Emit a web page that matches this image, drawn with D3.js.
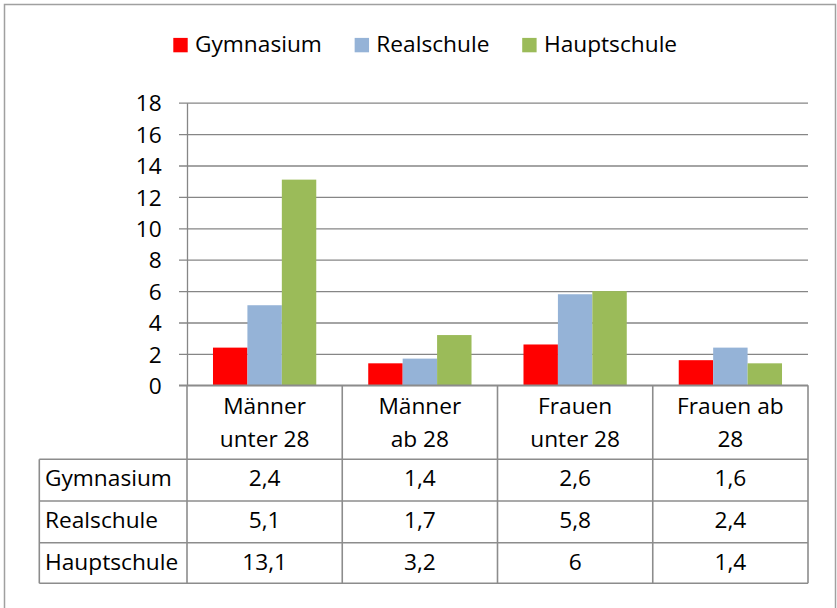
<!DOCTYPE html>
<html>
<head>
<meta charset="utf-8">
<script src="https://cdn.jsdelivr.net/npm/d3@7"></script>
<style>
  html, body { margin: 0; padding: 0; background: #fff; }
  svg { display: block; }
  text { font-family: "Open Sans", Lato, sans-serif; font-size: 22.7px; fill: #000; }
</style>
</head>
<body>
<svg id="chart" width="837" height="608"></svg>
<script>
// ---- data ----
const categories = [["Männer", "unter 28"], ["Männer", "ab 28"], ["Frauen", "unter 28"], ["Frauen ab", "28"]];
const seriesNames = ["Gymnasium", "Realschule", "Hauptschule"];
const gymnasium = [2.4, 1.4, 2.6, 1.6];
const realschule = [5.1, 1.7, 5.8, 2.4];
const hauptschule = [13.1, 3.2, 6, 1.4];
const yTicks = [0, 2, 4, 6, 8, 10, 12, 14, 16, 18];
const colors = ["#FF0000", "#95B3D7", "#9BBB59"];

(function () {
const seriesValues = [gymnasium, realschule, hauptschule];
const fmt = v => String(v).replace(".", ",");

const svg = d3.select("#chart");

// outer border
svg.append("rect").attr("x", 4.5).attr("y", 4.5).attr("width", 831).attr("height", 640)
  .attr("fill", "none").attr("stroke", "#a0a0a0").attr("stroke-width", 1.5);

const pLeft = 187, pRight = 808, pTop = 102.7, pBottom = 385.3;
const catIdx = categories.map((d, i) => i);

const x0 = d3.scaleBand().domain(catIdx).range([pLeft, pRight]).padding(0);
const x1 = d3.scaleBand().domain(seriesNames).range([0, x0.bandwidth()]).paddingInner(0).paddingOuter(0.755);
const y = d3.scaleLinear().domain([0, 18]).range([pBottom, pTop]);

// gridlines
const grid = svg.append("g").attr("transform", `translate(${pRight},0)`)
  .call(d3.axisLeft(y).tickValues(yTicks).tickSize(pRight - pLeft + 8).tickFormat(""));
grid.select(".domain").remove();
grid.selectAll("line").attr("stroke", "#868686").attr("stroke-width", 1.3);

// y axis
const yAxis = svg.append("g").attr("transform", `translate(${pLeft},0)`)
  .call(d3.axisLeft(y).tickValues(yTicks).tickSize(0).tickPadding(25.3));
yAxis.select(".domain").attr("stroke", "#868686").attr("stroke-width", 1.3);
yAxis.attr("font-family", null).attr("font-size", null);
yAxis.selectAll("text").attr("dy", "0.36em");

// bars
seriesNames.forEach((s, si) => {
  svg.append("g").selectAll("rect").data(seriesValues[si]).join("rect")
    .attr("x", (d, i) => x0(i) + x1(s))
    .attr("width", x1.bandwidth())
    .attr("y", d => y(d))
    .attr("height", d => y(0) - y(d))
    .attr("fill", colors[si]);
});

// data table
const rowTops = [459.3, 501, 542.7, 583.3];
const tableLeft = 39.3;
const lineColor = "#8c8c8c";
const tg = svg.append("g");
tg.append("line").attr("x1", pLeft - 8).attr("x2", pRight).attr("y1", pBottom).attr("y2", pBottom);
rowTops.forEach(ry => tg.append("line").attr("x1", tableLeft).attr("x2", pRight).attr("y1", ry).attr("y2", ry));
catIdx.forEach(i => tg.append("line").attr("x1", x0(i)).attr("x2", x0(i)).attr("y1", pBottom).attr("y2", rowTops[3]));
tg.append("line").attr("x1", pRight).attr("x2", pRight).attr("y1", pBottom).attr("y2", rowTops[3]);
tg.append("line").attr("x1", tableLeft).attr("x2", tableLeft).attr("y1", rowTops[0]).attr("y2", rowTops[3]);
tg.selectAll("line").attr("stroke", lineColor).attr("stroke-width", 1.6);

// header text
categories.forEach((lines, i) => {
  lines.forEach((t, li) => {
    svg.append("text").attr("x", x0(i) + x0.bandwidth() / 2).attr("y", 414.3 + li * 32.4)
      .attr("text-anchor", "middle").text(t);
  });
});
// row labels and values
const rowBaselines = [486, 528, 569.8];
seriesNames.forEach((s, si) => {
  svg.append("text").attr("x", 45).attr("y", rowBaselines[si]).text(s);
  seriesValues[si].forEach((v, i) => {
    svg.append("text").attr("x", x0(i) + x0.bandwidth() / 2).attr("y", rowBaselines[si])
      .attr("text-anchor", "middle").text(fmt(v));
  });
});

// legend
let lx = 173.3;
seriesNames.forEach((s, si) => {
  svg.append("rect").attr("x", lx).attr("y", 37.9).attr("width", 14.4).attr("height", 14.4).attr("fill", colors[si]);
  const t = svg.append("text").attr("x", lx + 21.7).attr("y", 52.3).text(s);
  lx += 21.7 + t.node().getComputedTextLength() + 32.8;
});
})();
</script>
</body>
</html>
